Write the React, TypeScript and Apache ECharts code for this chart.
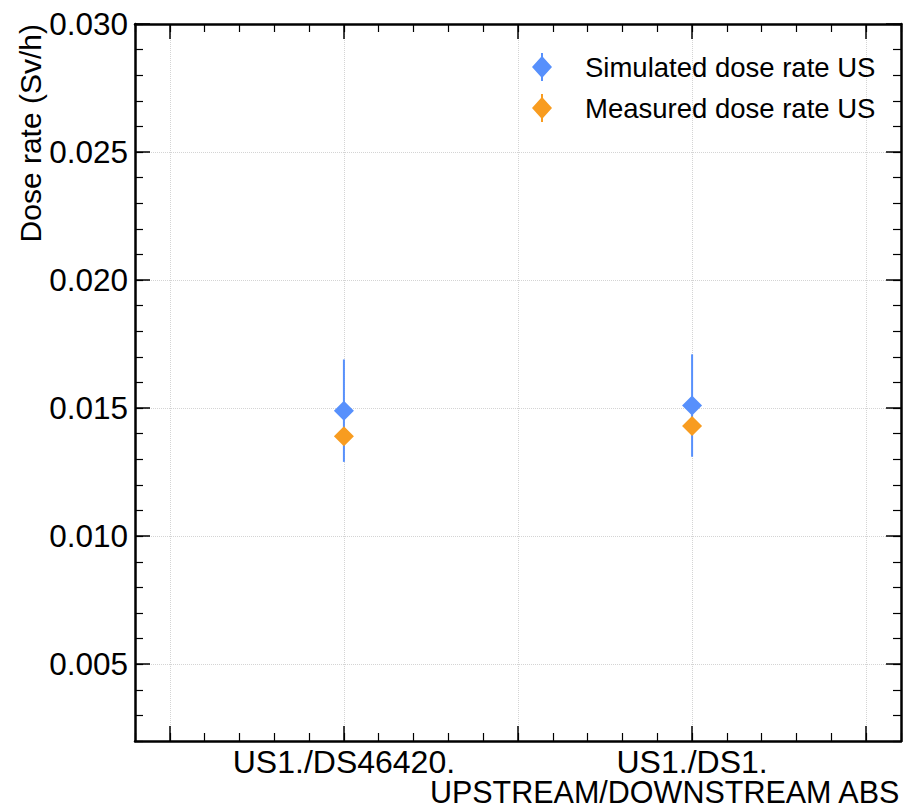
import React, { useEffect, useRef } from "react";
import * as echarts from "echarts";

const categories = ["US1./DS46420.", "US1./DS1."];
const simulated = [0.0149, 0.0151];
const simulatedErr = [0.002, 0.002];
const measured = [0.0139, 0.0143];
const yTickValues = [0.005, 0.01, 0.015, 0.02, 0.025, 0.03];
const xMajorTicks = [-0.5, 0, 0.5, 1, 1.5];
const xLabelValues = [0, 1];

const SIM_NAME = "Simulated dose rate US";
const MEAS_NAME = "Measured dose rate US";
const xAxisTitle = "UPSTREAM/DOWNSTREAM ABS";
const yAxisTitle = "Dose rate (Sv/h)";

const BLUE = "#5790fc";
const ORANGE = "#f89c20";
const FONT = "'Liberation Sans', Arial, Helvetica, sans-serif";

const ICON = "path://M9,0 L11,0 L11,4 L20,14 L11,24 L11,28 L9,28 L9,24 L0,14 L9,4 Z";

export default function App() {
  const ref = useRef<HTMLDivElement>(null);
  useEffect(() => {
    if (!ref.current) return;
    const chart = echarts.init(ref.current, undefined, { renderer: "svg" });
    const frame = { show: true, onZero: false, lineStyle: { color: "#000", width: 2.5 } };
    const noLine = { show: false, onZero: false };
    const majorTick = { show: true, inside: true, length: 15, lineStyle: { color: "#000", width: 1.5 } };
    const minorTick = { show: true, inside: true, length: 8, lineStyle: { color: "#000", width: 1.2 } };
    const grid = { show: true, lineStyle: { color: "#d4d4d4", width: 1, type: "dotted" } };
    const xBase = { type: "value", min: -0.6, max: 1.6, gridIndex: 0 };
    const yBase = { type: "value", min: 0.002, max: 0.03, gridIndex: 0 };

    chart.setOption({
      animation: false,
      backgroundColor: "#fff",
      textStyle: { fontFamily: FONT },
      grid: { left: 135, right: 5, top: 24, bottom: 67, containLabel: false },
      xAxis: [
        {
          ...xBase,
          position: "bottom",
          axisLine: frame,
          axisTick: { ...majorTick, customValues: xMajorTicks },
          axisLabel: {
            show: true,
            customValues: xLabelValues,
            formatter: (v: number) => categories[Math.round(v)] ?? "",
            color: "#000",
            fontSize: 32,
            lineHeight: 27,
            fontFamily: FONT,
            margin: 7,
          },
          splitLine: grid,
        },
        {
          ...xBase,
          position: "bottom",
          interval: 0.1,
          axisLine: noLine,
          axisTick: minorTick,
          axisLabel: { show: false },
          splitLine: { show: false },
        },
        {
          ...xBase,
          position: "top",
          axisLine: frame,
          axisTick: { ...majorTick, customValues: xMajorTicks },
          axisLabel: { show: false },
          splitLine: { show: false },
        },
        {
          ...xBase,
          position: "top",
          interval: 0.1,
          axisLine: noLine,
          axisTick: minorTick,
          axisLabel: { show: false },
          splitLine: { show: false },
        },
      ],
      yAxis: [
        {
          ...yBase,
          position: "left",
          axisLine: frame,
          axisTick: { ...majorTick, customValues: yTickValues },
          axisLabel: {
            show: true,
            customValues: yTickValues,
            formatter: (v: number) => v.toFixed(3),
            color: "#000",
            fontSize: 31.5,
            fontFamily: FONT,
            margin: 7,
          },
          splitLine: grid,
        },
        {
          ...yBase,
          position: "left",
          interval: 0.001,
          axisLine: noLine,
          axisTick: minorTick,
          axisLabel: { show: false },
          splitLine: { show: false },
        },
        {
          ...yBase,
          position: "right",
          axisLine: frame,
          axisTick: { ...majorTick, customValues: yTickValues },
          axisLabel: { show: false },
          splitLine: { show: false },
        },
        {
          ...yBase,
          position: "right",
          interval: 0.001,
          axisLine: noLine,
          axisTick: minorTick,
          axisLabel: { show: false },
          splitLine: { show: false },
        },
      ],
      legend: {
        show: true,
        orient: "vertical",
        left: 527,
        top: 48,
        itemWidth: 76,
        itemHeight: 28,
        itemGap: 13,
        selectedMode: false,
        data: [
          { name: SIM_NAME, icon: ICON },
          { name: MEAS_NAME, icon: ICON },
        ],
        textStyle: { color: "#000", fontSize: 27.5, fontFamily: FONT },
      },
      series: [
        {
          name: "sim-err",
          type: "custom",
          xAxisIndex: 0,
          yAxisIndex: 0,
          z: 1,
          data: simulated.map((v, i) => [i, v - simulatedErr[i], v + simulatedErr[i]]),
          renderItem: (params: any, api: any) => {
            const x = api.value(0);
            const lo = api.coord([x, api.value(1)]);
            const hi = api.coord([x, api.value(2)]);
            return {
              type: "line",
              shape: { x1: lo[0], y1: lo[1], x2: hi[0], y2: hi[1] },
              style: { stroke: BLUE, lineWidth: 2 },
            };
          },
        },
        {
          name: SIM_NAME,
          type: "scatter",
          xAxisIndex: 0,
          yAxisIndex: 0,
          z: 2,
          symbol: "diamond",
          symbolSize: 20,
          itemStyle: { color: BLUE, opacity: 1 },
          data: simulated.map((v, i) => [i, v]),
        },
        {
          name: MEAS_NAME,
          type: "scatter",
          xAxisIndex: 0,
          yAxisIndex: 0,
          z: 3,
          symbol: "diamond",
          symbolSize: 20,
          itemStyle: { color: ORANGE, opacity: 1 },
          data: measured.map((v, i) => [i, v]),
        },
      ],
      graphic: [
        {
          type: "text",
          right: 5,
          top: 776,
          style: { text: xAxisTitle, fill: "#000", font: `30.5px ${FONT}`, lineHeight: 26 },
        },
        {
          type: "text",
          x: 30,
          y: 24,
          rotation: Math.PI / 2,
          style: {
            text: yAxisTitle,
            fill: "#000",
            font: `30px ${FONT}`,
            align: "right",
            verticalAlign: "middle",
          },
        },
      ],
    });
    return () => chart.dispose();
  }, []);
  return (
    <div
      ref={ref}
      style={{ position: "fixed", left: 0, top: 0, width: 906, height: 808, background: "#fff" }}
    />
  );
}
